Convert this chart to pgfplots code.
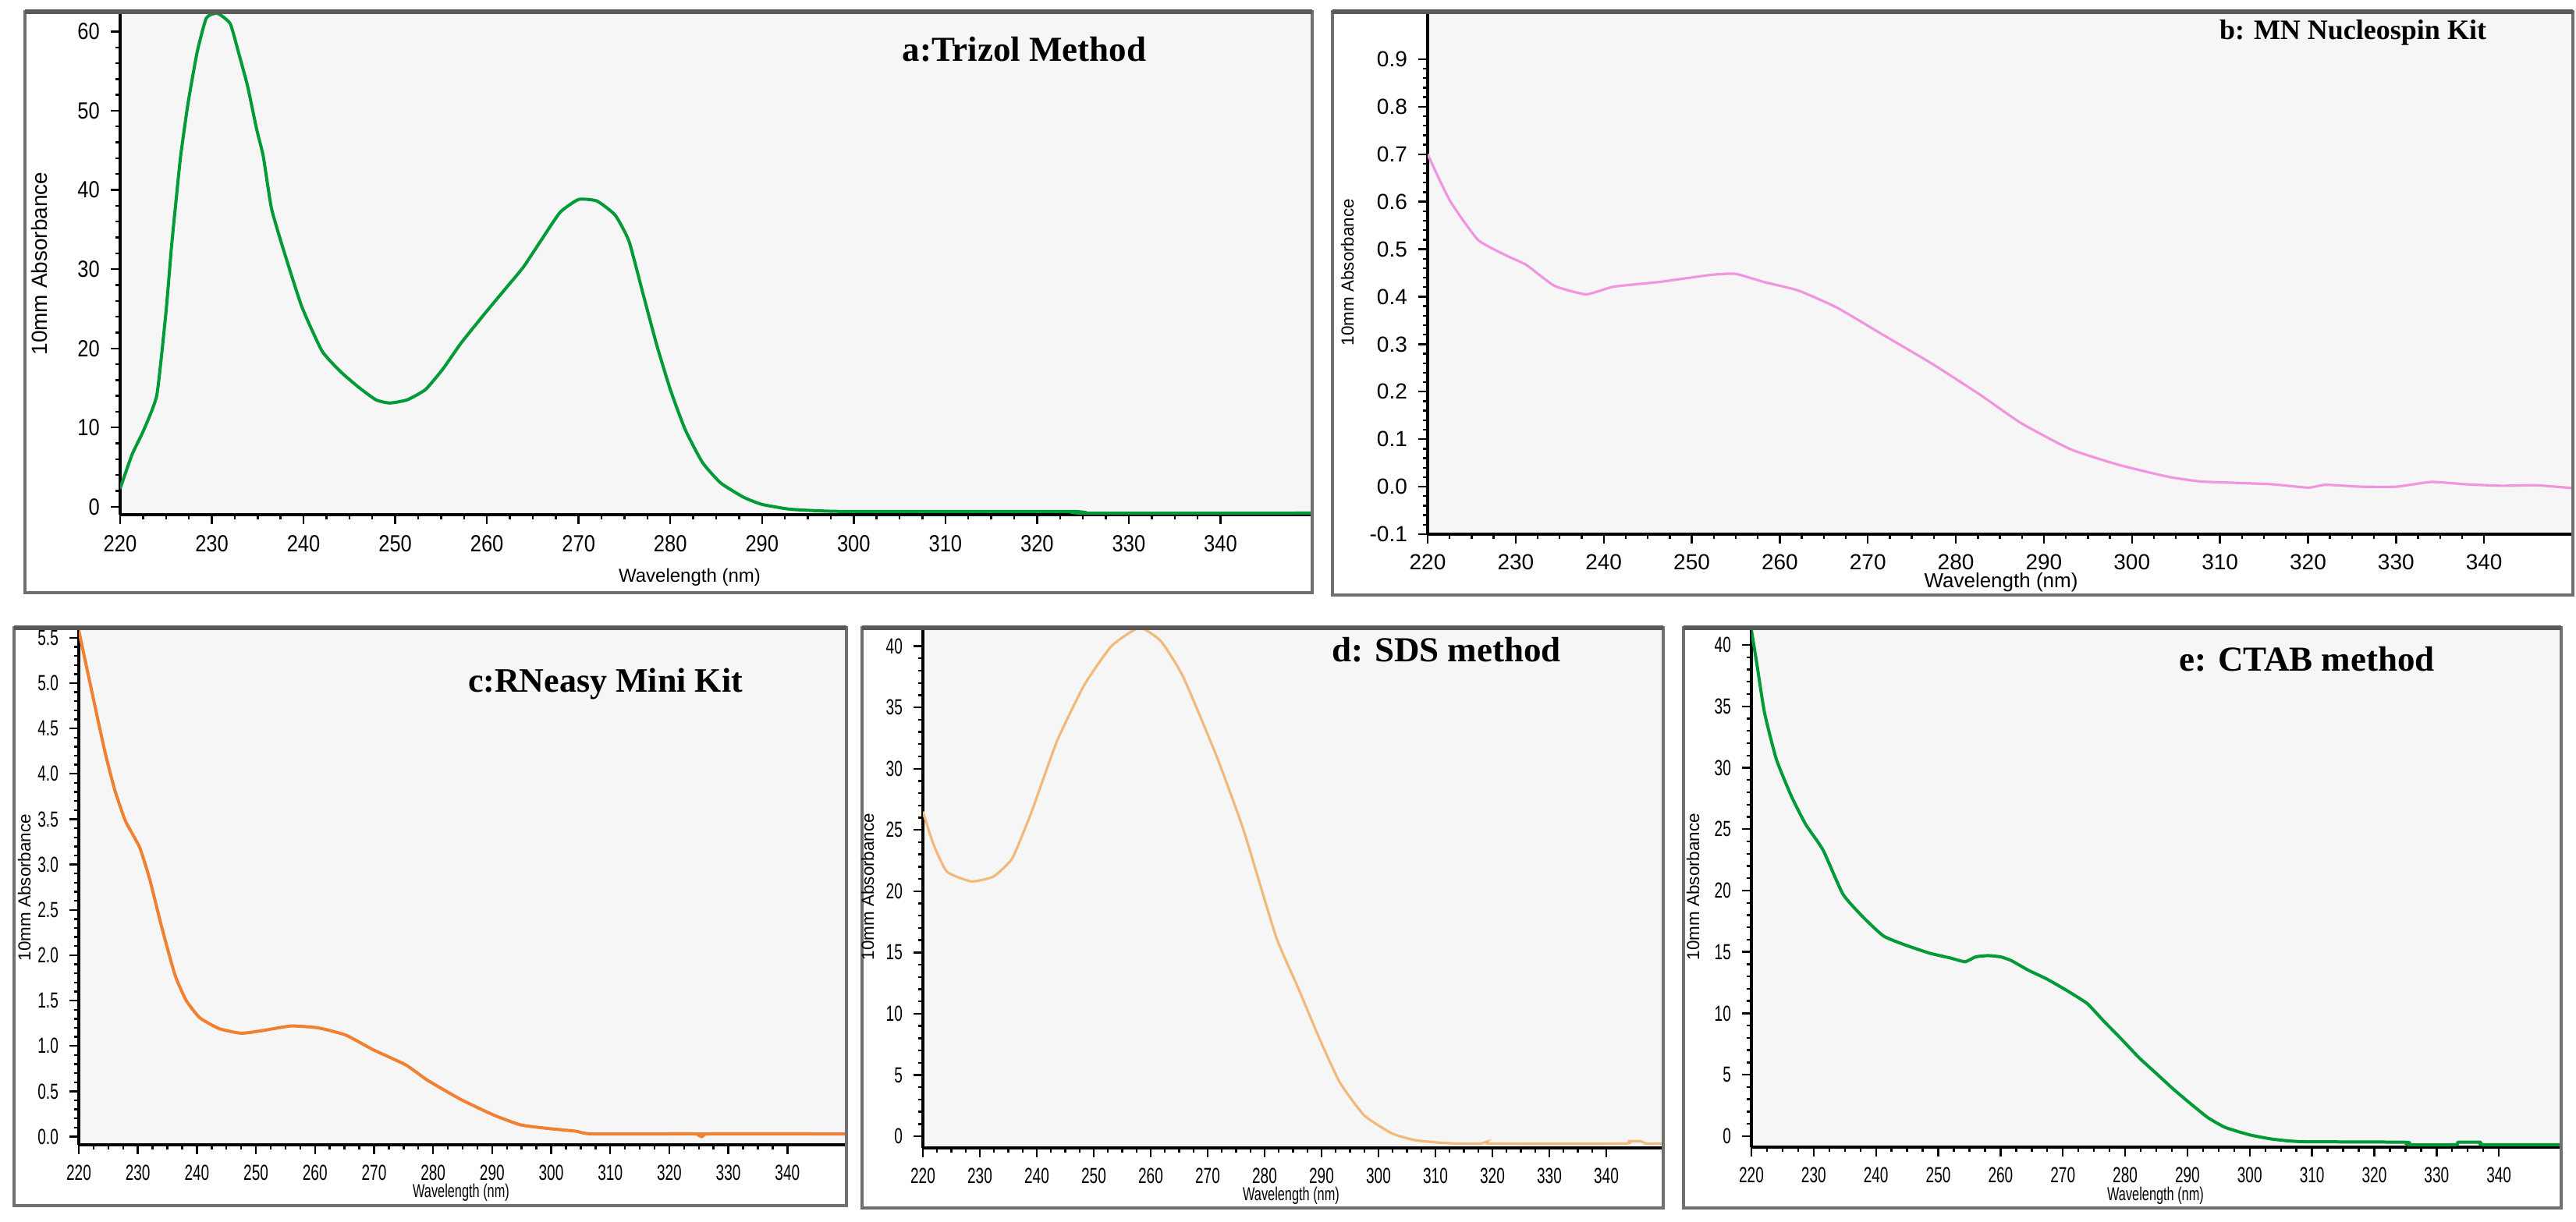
\documentclass[border=0pt]{standalone}
\usepackage{pgfplots}
\pgfplotsset{compat=1.18}
\usepackage{fontspec}
\setmainfont{Liberation Sans}
\newfontfamily\titlefont{Liberation Serif}
\newfontfamily\sansA[FakeStretch=0.85]{Liberation Sans}
\newfontfamily\sansC[FakeStretch=0.68]{Liberation Sans}

\definecolor{bgc}{RGB}{246,246,246}
\definecolor{frm}{RGB}{112,112,112}
\definecolor{grn}{RGB}{0,155,55}
\definecolor{pnk}{RGB}{240,150,225}
\definecolor{org}{RGB}{240,128,50}
\definecolor{tan}{RGB}{242,185,125}

\pgfplotsset{
  spec/.style={
    scale only axis,
    anchor=south west,
    xmin=220, xmax=350,
    xtick={220,230,...,340},
    minor x tick num=3,
    minor y tick num=4,
    axis x line*=bottom, axis y line*=left,
    axis line style={-, line width=1pt, black},
    axis background/.style={fill=bgc},
    tick align=outside,
    major tick length=3pt, minor tick length=1.6pt,
    tick style={black, line width=0.6pt},
    /pgf/number format/assume math mode=true,
    clip=true,
  },
  topfont/.style={ticklabel style={font=\sansA\fontsize{7.5}{8}\selectfont}},
  botfont/.style={ticklabel style={font=\sansC\fontsize{7}{8}\selectfont}},
}

\begin{document}
\begin{tikzpicture}
\path[use as bounding box] (0pt,0pt) rectangle (825.5pt,-391.5pt);

% a: Trizol
\begin{axis}[spec, topfont, at={(38.5pt,-165pt)}, width=382pt, height=161.25pt,
  ymin=-1, ymax=62.5, ytick={0,10,...,60}]
\addplot[grn, line width=1pt, smooth, tension=0.3] coordinates {
(220,2.3) (221.3,6.6) (222.5,9.5) (224,14.1) (225,24.6) (225.6,32.8) (226.1,38.7)
(226.6,44.3) (227.4,50.9) (228.4,57.4) (229.4,61.7) (230.6,62.3) (232,61) (232.9,57.4)
(233.9,53.1) (234.9,47.6) (235.6,44.3) (236.5,37.7) (237.8,32.5) (239.8,25.3) (242,19.7)
(244,17.1) (246,15.1) (247.9,13.5) (249.4,13.1) (251.3,13.5) (253.3,14.8) (255.2,17.4)
(257.2,20.7) (259.7,24.3) (262,27.5) (264,30.3) (266,33.8) (268,37.2) (270,38.8)
(272,38.6) (274,36.8) (275.5,33.5) (277,27) (278.5,20.5) (280,14.8) (281.6,9.8)
(283.5,5.6) (285.5,3) (288,1.2) (290,0.3) (293,-0.3) (296,-0.5) (300,-0.6) (324,-0.6)
(325,-0.8) (350,-0.8)};
\end{axis}

% b: MN Nucleospin
\begin{axis}[spec, ticklabel style={font=\fontsize{7}{8}\selectfont},
  at={(457.5pt,-171.25pt)}, width=366.75pt, height=167.5pt,
  ymin=-0.1, ymax=1.0, ytick={-0.1,0,0.1,0.2,0.3,0.4,0.5,0.6,0.7,0.8,0.9},
  yticklabel style={/pgf/number format/.cd, fixed, fixed zerofill, precision=1}]
\addplot[pnk, line width=0.8pt, smooth, tension=0.3] coordinates {
(220,0.70) (222.5,0.603) (225.7,0.52) (228.9,0.487) (231.2,0.467) (234.4,0.423)
(238,0.405) (241.1,0.421) (246.3,0.431) (252.2,0.446) (255,0.448) (258.2,0.431)
(262.1,0.413) (266.5,0.377) (271.7,0.32) (277.2,0.26) (282.8,0.193) (287.4,0.134)
(293,0.079) (298.5,0.046) (304.1,0.021) (307.8,0.011) (312,0.008) (316,0.005)
(320,-0.002) (322,0.004) (326,0.0) (330,0.0) (334,0.01) (338,0.005) (342,0.002)
(346,0.003) (350,-0.003)};
\end{axis}

% c: RNeasy
\begin{axis}[spec, botfont, at={(25.25pt,-367pt)}, width=246pt, height=165.75pt,
  ymin=-0.09, ymax=5.61, ytick={0,0.5,...,5.5},
  yticklabel style={/pgf/number format/.cd, fixed, fixed zerofill, precision=1}]
\addplot[org, line width=1pt, smooth, tension=0.3] coordinates {
(220,5.58) (222,4.97) (224.4,4.25) (226.1,3.82) (227.9,3.48) (230.3,3.19) (232,2.84)
(234,2.32) (236.3,1.78) (238.2,1.50) (240.5,1.31) (243.8,1.19) (247.5,1.14) (251.2,1.17)
(255.9,1.22) (260.5,1.20) (265.2,1.12) (269.8,0.96) (275.4,0.79) (279.1,0.62)
(284.7,0.41) (290.2,0.24) (294.8,0.13) (299.5,0.09) (304.2,0.06) (307,0.03) (325,0.03)
(325.5,0.0) (326,0.03) (350,0.03)};
\end{axis}

% d: SDS
\begin{axis}[spec, botfont, at={(295.75pt,-368pt)}, width=237.25pt, height=166.75pt,
  ymin=-0.95, ymax=41.5, ytick={0,5,...,40}]
\addplot[tan, line width=0.8pt, smooth, tension=0.3] coordinates {
(220,26.5) (221.8,23.9) (224.2,21.6) (228.5,20.8) (232.4,21.2) (235.7,22.7) (239.1,26.5)
(243.5,32.2) (248.3,36.8) (253.1,40) (258,41.5) (261.8,40.4) (265.7,37.5) (271.5,31.1)
(276.3,25) (282,16.3) (285.9,12.1) (289.7,7.9) (293.2,4.4) (297.5,1.7) (302.3,0.25)
(306.2,-0.3) (310.1,-0.5) (314,-0.6) (318,-0.6) (319,-0.45) (320,-0.6) (343,-0.6)
(344,-0.4) (346,-0.4) (347,-0.6) (350,-0.6)};
\end{axis}

% e: CTAB
\begin{axis}[spec, botfont, at={(561.25pt,-367.75pt)}, width=259.5pt, height=166.5pt,
  ymin=-0.9, ymax=41.4, ytick={0,5,...,40}]
\addplot[grn, line width=1pt, smooth, tension=0.3] coordinates {
(220,41.2) (220.8,38.7) (222.1,34.5) (224,30.7) (226.4,27.7) (228.7,25.4) (231.5,23.3)
(234.7,19.7) (238,17.8) (241.2,16.3) (244.5,15.6) (248.6,14.9) (252,14.5) (254.3,14.2)
(256,14.6) (258,14.7) (260,14.6) (261.7,14.3) (264.5,13.5) (267.4,12.8) (270.5,11.9)
(273.9,10.8) (276.5,9.4) (279.4,7.9) (282.2,6.4) (285,5.1) (287.8,3.8) (290.6,2.6)
(293.3,1.5) (296.1,0.7) (300,0.1) (303.7,-0.25) (308.3,-0.45) (325,-0.5) (325.5,-0.7)
(333,-0.7) (333.5,-0.5) (337,-0.5) (337.5,-0.7) (350,-0.7)};
\end{axis}

% panel frames, the top edge heavier as in the scan
\begin{scope}[frm, line width=0.9pt]
\draw (8pt,-3.75pt) rectangle (420.5pt,-190pt);
\draw (427pt,-3.75pt) rectangle (824.5pt,-190.75pt);
\draw (4.5pt,-201.25pt) rectangle (271.25pt,-386.5pt);
\draw (276.25pt,-201.25pt) rectangle (533pt,-387.25pt);
\draw (539.5pt,-201.25pt) rectangle (820.75pt,-387.25pt);
\end{scope}
\begin{scope}[black!65, line width=1.5pt]
\draw (8pt,-3.75pt) -- (420.5pt,-3.75pt);
\draw (427pt,-3.75pt) -- (824.5pt,-3.75pt);
\draw (4.5pt,-201.25pt) -- (271.25pt,-201.25pt);
\draw (276.25pt,-201.25pt) -- (533pt,-201.25pt);
\draw (539.5pt,-201.25pt) -- (820.75pt,-201.25pt);
\end{scope}

% axis titles
\begin{scope}[inner sep=0pt]
\node[rotate=90] at (12.5pt,-84.5pt) {\fontsize{7}{8}\selectfont 10mm Absorbance};
\node at (221pt,-185pt) {\fontsize{6}{7}\selectfont Wavelength (nm)};
\node[rotate=90] at (431.75pt,-87.25pt) {\fontsize{5.6}{6}\selectfont 10mm Absorbance};
\node at (641.25pt,-186.75pt) {\fontsize{6.5}{7}\selectfont Wavelength (nm)};
\node[rotate=90] at (7.75pt,-284.5pt) {\fontsize{5.6}{6}\selectfont 10mm Absorbance};
\node at (147.75pt,-382.25pt) {\sansC\fontsize{6}{7}\selectfont Wavelength (nm)};
\node[rotate=90] at (278pt,-284.25pt) {\fontsize{5.6}{6}\selectfont 10mm Absorbance};
\node at (413.75pt,-383.25pt) {\sansC\fontsize{6}{7}\selectfont Wavelength (nm)};
\node[rotate=90] at (542.5pt,-284.25pt) {\fontsize{5.6}{6}\selectfont 10mm Absorbance};
\node at (690.75pt,-383.25pt) {\sansC\fontsize{6}{7}\selectfont Wavelength (nm)};
% panel titles
\node at (328.25pt,-15.75pt) {\titlefont\bfseries\fontsize{11.25}{12}\selectfont a:Trizol Method};
\node at (754pt,-10.5pt) {\titlefont\bfseries\fontsize{9}{10}\selectfont b: MN Nucleospin Kit};
\node at (194pt,-219.25pt) {\titlefont\bfseries\fontsize{11}{12}\selectfont c:RNeasy Mini Kit};
\node at (463.5pt,-208.25pt) {\titlefont\bfseries\fontsize{11.25}{12}\selectfont d: SDS method};
\node at (739.25pt,-211.25pt) {\titlefont\bfseries\fontsize{11.25}{12}\selectfont e: CTAB method};
\end{scope}
\end{tikzpicture}
\end{document}
